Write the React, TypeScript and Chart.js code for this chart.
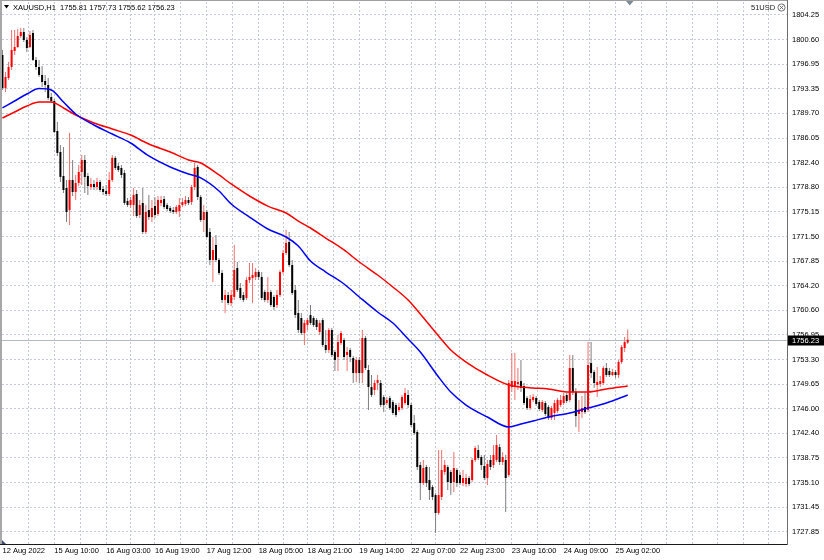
import React, { useEffect, useRef } from 'react';
import { Chart, registerables } from 'chart.js';

Chart.register(...registerables);

const symbol = 'XAUUSD,H1';
const cornerText = '51USD';

const opens = [
  1798.33, 1793.46, 1794.93, 1796.56, 1798.92, 1799.51, 1801.14, 1801.73, 1800.55, 1799.51,
  1801.59, 1797.60, 1796.56, 1795.38, 1794.49, 1793.90, 1792.12, 1791.53, 1787.09, 1783.99,
  1780.44, 1778.67, 1775.41, 1779.85, 1778.07, 1779.41, 1781.03, 1782.81, 1780.44, 1778.81,
  1779.26, 1778.81, 1779.55, 1778.52, 1778.22, 1777.78, 1779.85, 1783.11, 1781.92, 1781.63,
  1780.89, 1776.74, 1776.15, 1776.15, 1777.78, 1774.67, 1776.45, 1772.16, 1775.41, 1774.37,
  1776.00, 1774.82, 1776.45, 1777.04, 1776.15, 1775.70, 1775.41, 1775.11, 1775.26, 1776.15,
  1776.30, 1776.89, 1776.59, 1778.81, 1781.77, 1777.33, 1773.93, 1775.11, 1772.16, 1768.02,
  1770.24, 1768.02, 1766.10, 1762.10, 1762.84, 1761.66, 1762.55, 1766.84, 1763.88, 1762.84,
  1762.40, 1765.06, 1765.36, 1765.51, 1766.25, 1765.51, 1763.29, 1762.10, 1763.29, 1762.55,
  1761.36, 1762.84, 1766.25, 1769.05, 1770.68, 1767.28, 1763.58, 1760.18, 1759.44, 1757.22,
  1758.40, 1759.88, 1759.44, 1759.14, 1757.37, 1759.14, 1755.45, 1754.71, 1757.67, 1754.41,
  1753.67, 1755.74, 1756.19, 1753.97, 1754.71, 1753.52, 1751.30, 1753.23, 1751.30, 1756.48,
  1751.75, 1749.23, 1748.79, 1749.83, 1749.83, 1747.75, 1746.87, 1747.60, 1747.01, 1746.57,
  1745.83, 1746.13, 1746.87, 1748.05, 1746.57, 1743.92, 1742.58, 1737.70, 1735.04, 1737.41,
  1735.48, 1734.45, 1733.26, 1730.60, 1732.97, 1736.67, 1737.41, 1736.67, 1735.19, 1736.96,
  1736.22, 1735.04, 1734.89, 1735.78, 1735.48, 1738.44, 1739.92, 1738.89, 1737.55, 1735.78,
  1738.44, 1737.70, 1738.44, 1740.36, 1738.14, 1738.44, 1736.22, 1749.23, 1749.38, 1749.68,
  1750.12, 1749.38, 1747.60, 1746.13, 1747.31, 1747.60, 1747.01, 1745.83, 1746.87, 1746.27,
  1744.65, 1745.39, 1745.68, 1746.57, 1746.87, 1748.05, 1747.31, 1752.04, 1748.49, 1745.24,
  1745.53, 1746.27, 1745.83, 1752.78, 1751.45, 1749.53, 1749.68, 1749.83, 1752.04, 1751.60,
  1751.01, 1751.45, 1751.01, 1752.93, 1755.00, 1755.81,
];

const highs = [
  1799.07, 1795.82, 1797.30, 1802.03, 1802.03, 1802.18, 1802.33, 1802.33, 1801.00, 1801.88,
  1802.03, 1798.04, 1797.60, 1796.71, 1795.38, 1794.93, 1792.72, 1791.83, 1788.42, 1785.03,
  1784.73, 1779.85, 1786.80, 1782.81, 1780.59, 1782.07, 1783.55, 1783.55, 1780.89, 1780.15,
  1779.85, 1780.15, 1779.85, 1778.96, 1779.11, 1781.03, 1783.55, 1783.40, 1782.37, 1782.07,
  1781.33, 1777.18, 1777.33, 1778.67, 1778.37, 1776.89, 1778.67, 1776.15, 1777.63, 1776.89,
  1777.33, 1777.48, 1777.48, 1777.48, 1776.45, 1776.00, 1775.85, 1776.15, 1777.18, 1777.18,
  1777.48, 1777.33, 1779.11, 1782.37, 1782.07, 1777.63, 1776.15, 1775.41, 1772.75, 1771.42,
  1771.72, 1768.32, 1766.54, 1763.58, 1763.29, 1763.58, 1770.24, 1767.72, 1764.62, 1763.29,
  1765.51, 1767.58, 1767.58, 1766.84, 1766.54, 1766.25, 1763.58, 1765.51, 1763.58, 1762.84,
  1763.58, 1766.54, 1769.50, 1772.45, 1772.16, 1768.02, 1764.32, 1762.10, 1760.18, 1759.14,
  1759.44, 1761.36, 1759.73, 1759.44, 1759.14, 1759.44, 1757.67, 1757.96, 1757.96, 1754.71,
  1756.93, 1757.52, 1756.48, 1755.15, 1755.00, 1753.82, 1753.67, 1753.67, 1757.67, 1756.78,
  1752.49, 1751.01, 1750.27, 1751.01, 1750.27, 1748.05, 1747.75, 1747.90, 1747.31, 1746.87,
  1746.87, 1748.05, 1749.09, 1748.79, 1746.87, 1745.09, 1742.88, 1738.14, 1738.44, 1737.70,
  1737.41, 1734.74, 1733.56, 1739.92, 1739.92, 1738.44, 1737.70, 1736.96, 1739.62, 1737.26,
  1736.67, 1736.96, 1736.37, 1736.07, 1738.74, 1740.51, 1740.66, 1739.18, 1739.18, 1738.44,
  1739.18, 1740.66, 1742.14, 1740.81, 1739.62, 1739.18, 1750.27, 1754.26, 1754.26, 1752.04,
  1753.23, 1749.83, 1747.90, 1748.05, 1748.20, 1747.90, 1747.31, 1747.31, 1747.16, 1746.57,
  1746.42, 1747.31, 1747.60, 1748.05, 1748.35, 1748.35, 1753.97, 1753.97, 1749.09, 1747.31,
  1747.90, 1748.35, 1755.89, 1755.89, 1751.75, 1752.19, 1750.86, 1752.34, 1752.78, 1752.04,
  1751.90, 1751.75, 1753.23, 1755.45, 1756.63, 1757.73,
];

const lows = [
  1793.16, 1792.86, 1794.64, 1796.12, 1798.33, 1799.37, 1800.85, 1800.25, 1798.77, 1799.37,
  1797.45, 1796.12, 1795.08, 1793.60, 1792.86, 1791.68, 1791.24, 1786.80, 1783.40, 1779.55,
  1777.92, 1773.63, 1773.19, 1777.48, 1776.89, 1778.96, 1779.11, 1777.92, 1777.63, 1778.37,
  1778.37, 1778.37, 1778.07, 1777.63, 1777.48, 1777.48, 1779.55, 1781.33, 1781.03, 1780.15,
  1776.15, 1775.85, 1775.70, 1774.52, 1774.23, 1774.23, 1771.86, 1771.86, 1773.93, 1773.63,
  1774.23, 1774.52, 1776.00, 1775.56, 1775.26, 1774.96, 1774.82, 1774.82, 1774.37, 1775.85,
  1776.00, 1776.15, 1776.15, 1778.37, 1776.89, 1773.63, 1772.16, 1771.27, 1767.28, 1764.77,
  1767.72, 1765.80, 1761.66, 1760.18, 1761.36, 1761.21, 1762.10, 1763.29, 1762.10, 1761.81,
  1762.10, 1764.62, 1761.66, 1765.06, 1765.06, 1762.10, 1761.81, 1761.66, 1761.07, 1760.62,
  1760.92, 1762.55, 1765.95, 1768.76, 1766.99, 1762.84, 1759.44, 1757.22, 1756.93, 1755.45,
  1757.67, 1758.40, 1758.11, 1757.67, 1756.93, 1755.15, 1754.26, 1754.26, 1753.67, 1751.60,
  1751.60, 1755.45, 1753.23, 1751.60, 1752.93, 1749.83, 1749.97, 1749.83, 1749.83, 1751.75,
  1745.83, 1747.75, 1748.05, 1748.79, 1746.27, 1745.53, 1746.57, 1745.83, 1745.09, 1744.79,
  1745.53, 1745.83, 1746.57, 1746.13, 1743.32, 1742.14, 1736.96, 1732.52, 1734.74, 1734.45,
  1732.52, 1732.52, 1727.64, 1730.30, 1732.52, 1736.22, 1734.00, 1733.26, 1733.71, 1734.45,
  1734.74, 1734.59, 1734.45, 1734.59, 1735.19, 1738.14, 1738.44, 1736.96, 1735.48, 1734.74,
  1736.96, 1737.26, 1738.14, 1737.70, 1737.70, 1730.75, 1735.93, 1748.49, 1747.31, 1748.79,
  1748.49, 1746.57, 1745.83, 1745.83, 1747.01, 1746.42, 1745.68, 1745.53, 1744.95, 1744.36,
  1744.36, 1744.36, 1745.39, 1746.27, 1746.57, 1746.87, 1747.01, 1748.05, 1743.32, 1742.58,
  1744.65, 1745.24, 1745.53, 1750.57, 1749.09, 1747.75, 1749.23, 1749.53, 1750.71, 1750.71,
  1750.86, 1750.57, 1750.57, 1752.63, 1754.41, 1755.62,
];

const closes = [
  1793.46, 1795.08, 1796.56, 1799.07, 1799.51, 1801.14, 1801.73, 1800.55, 1799.37, 1801.29,
  1797.60, 1796.56, 1795.38, 1794.34, 1793.90, 1791.98, 1791.53, 1786.94, 1783.85, 1780.30,
  1778.37, 1775.11, 1779.85, 1778.07, 1779.41, 1781.03, 1782.81, 1780.30, 1778.96, 1779.26,
  1778.81, 1779.55, 1778.37, 1778.07, 1777.78, 1779.85, 1783.11, 1781.63, 1781.33, 1780.59,
  1776.45, 1776.15, 1776.89, 1777.63, 1774.52, 1776.15, 1772.16, 1775.11, 1774.37, 1775.70,
  1774.67, 1776.89, 1776.89, 1775.85, 1775.56, 1775.26, 1775.11, 1775.85, 1776.15, 1776.59,
  1776.89, 1776.45, 1778.81, 1781.63, 1777.33, 1773.93, 1775.11, 1771.42, 1768.02, 1769.50,
  1768.02, 1766.10, 1762.10, 1762.84, 1761.66, 1762.84, 1766.54, 1763.58, 1762.40, 1762.10,
  1765.06, 1765.51, 1765.80, 1766.25, 1765.51, 1762.40, 1762.10, 1763.29, 1761.36, 1761.07,
  1762.84, 1766.25, 1769.05, 1770.53, 1767.28, 1763.14, 1759.88, 1757.67, 1757.22, 1758.70,
  1759.14, 1758.70, 1758.40, 1758.11, 1758.70, 1755.45, 1754.71, 1757.67, 1753.97, 1753.23,
  1755.89, 1757.22, 1753.67, 1754.41, 1753.67, 1751.30, 1753.23, 1751.30, 1756.48, 1752.04,
  1749.23, 1748.05, 1749.83, 1750.27, 1746.57, 1746.57, 1747.31, 1746.13, 1745.39, 1745.09,
  1746.27, 1747.75, 1748.35, 1746.57, 1743.62, 1742.43, 1737.41, 1735.04, 1737.26, 1735.04,
  1734.00, 1732.97, 1730.60, 1733.26, 1736.96, 1737.70, 1735.19, 1735.04, 1737.26, 1735.04,
  1735.04, 1735.78, 1735.78, 1734.89, 1738.44, 1740.22, 1738.74, 1737.70, 1735.78, 1737.85,
  1737.41, 1739.18, 1740.66, 1738.14, 1738.89, 1735.78, 1749.83, 1750.12, 1750.12, 1749.97,
  1749.09, 1746.87, 1746.13, 1747.46, 1747.75, 1746.72, 1745.98, 1747.01, 1745.24, 1744.65,
  1746.13, 1746.87, 1747.31, 1747.31, 1747.90, 1747.16, 1752.04, 1748.49, 1744.95, 1745.83,
  1746.13, 1745.53, 1752.49, 1751.30, 1749.83, 1749.97, 1750.12, 1752.04, 1751.01, 1751.01,
  1751.45, 1751.01, 1752.93, 1755.15, 1755.89, 1756.23,
];

// moving averages read at sampled bars
const maIdx = [0, 4, 8, 12, 16, 20, 24, 30, 36, 42, 48, 55, 61, 65, 71, 75, 81, 87, 93, 97,
  101, 106, 112, 117, 123, 128, 133, 137, 143, 147, 152, 159, 166, 170, 174, 179, 186, 192, 198, 205];
const maFast = [1790.50, 1791.53, 1792.57, 1793.38, 1793.16, 1791.38, 1789.61, 1787.98, 1786.65, 1785.32,
  1783.40, 1781.77, 1780.74, 1780.15, 1778.22, 1776.30, 1774.37, 1772.60, 1771.42, 1770.09,
  1767.87, 1766.24, 1764.47, 1762.55, 1760.33, 1758.70, 1756.33, 1754.41, 1750.71, 1748.49,
  1746.57, 1744.80, 1743.32, 1743.77, 1744.21, 1744.80, 1745.39, 1746.13, 1746.87, 1748.05];
const maSlow = [1789.02, 1789.91, 1790.79, 1791.38, 1791.38, 1790.50, 1789.46, 1788.28, 1787.39, 1786.50,
  1785.17, 1783.99, 1782.81, 1782.37, 1780.59, 1779.26, 1777.48, 1775.99, 1774.97, 1773.78,
  1772.75, 1771.27, 1769.50, 1767.72, 1765.80, 1764.03, 1762.10, 1760.03, 1756.78, 1754.71,
  1752.93, 1751.01, 1749.53, 1749.23, 1749.09, 1748.94, 1748.49, 1748.49, 1748.94, 1749.38];

const xTickIdx = [0, 17, 34, 50, 67, 84, 100, 117, 134, 150, 167, 184, 201];
const xTickLabels = ['12 Aug 2022', '15 Aug 10:00', '16 Aug 03:00', '16 Aug 19:00', '17 Aug 12:00',
  '18 Aug 05:00', '18 Aug 21:00', '19 Aug 14:00', '22 Aug 07:00', '22 Aug 23:00', '23 Aug 16:00',
  '24 Aug 09:00', '25 Aug 02:00'];
const yTickLabels = ['1804.25', '1800.60', '1796.95', '1793.35', '1789.70', '1786.05', '1782.40',
  '1778.80', '1775.15', '1771.50', '1767.85', '1764.20', '1760.60', '1756.95', '1753.30', '1749.65',
  '1746.00', '1742.40', '1738.75', '1735.10', '1731.45', '1727.85'];

const X_MIN = -0.15;
const X_MAX = 257.23;
const Y_MIN = 1726.02;
const Y_MAX = 1806.17;
const FONT_FAMILY = '"Liberation Sans", Arial, sans-serif';
const GRID = '#c6cad2';

export default function App() {
  const ref = useRef<HTMLCanvasElement | null>(null);

  useEffect(() => {
    if (!ref.current) return;
    const bull = closes.map((c, i) => c >= opens[i]);
    const wickData = opens.map((_, i) => ({ x: i, y: [lows[i], highs[i]] }));
    const bodyData = opens.map((o, i) => ({ x: i, y: [o, closes[i]] }));
    const fastData = maIdx.map((x, k) => ({ x, y: maFast[k] }));
    const slowData = maIdx.map((x, k) => ({ x, y: maSlow[k] }));

    const gridVals = (): number[] => {
      const vals: number[] = [xTickIdx[0]];
      const n = xTickIdx.length;
      const step = (xTickIdx[n - 1] - xTickIdx[1]) / (2 * (n - 2));
      vals.push(xTickIdx[1] - step);
      for (let m = 1; m < n; m++) {
        vals.push(xTickIdx[m]);
        if (m < n - 1) vals.push((xTickIdx[m] + xTickIdx[m + 1]) / 2);
      }
      let v = xTickIdx[n - 1] + step;
      while (v < X_MAX) { vals.push(v); v += step; }
      return vals.sort((a, b) => a - b);
    };

    const last = opens.length - 1;
    const fmt = (v: number) => v.toFixed(2);

    const overlay = {
      id: 'mtOverlay',
      beforeDatasetsDraw(chart: any) {
        const { ctx, chartArea: ca, scales } = chart;
        const py = Math.round(scales.y.getPixelForValue(closes[last])) + 0.5;
        ctx.save();
        ctx.strokeStyle = '#b2bac4';
        ctx.lineWidth = 1;
        ctx.beginPath();
        ctx.moveTo(ca.left, py);
        ctx.lineTo(ca.right, py);
        ctx.stroke();
        ctx.restore();
      },
      afterDraw(chart: any) {
        const { ctx, chartArea: ca, scales } = chart;
        ctx.save();
        // frame
        ctx.fillStyle = '#a8a8a8';
        ctx.fillRect(0, 0, 2, ca.bottom + 1);
        ctx.fillStyle = '#a0a0a0';
        ctx.fillRect(0, 0, ca.right + 1, 1);
        ctx.fillStyle = '#1a1a1a';
        ctx.fillRect(0, ca.bottom, ca.right + 1, 1);
        ctx.fillStyle = '#6e6e6e';
        ctx.fillRect(ca.right, 0, 1, ca.bottom + 1);

        // current price tag
        const py = Math.round(scales.y.getPixelForValue(closes[last])) + 0.5;
        ctx.fillStyle = '#000';
        ctx.fillRect(ca.right + 1, py - 5, 36, 10);
        ctx.fillStyle = '#fff';
        ctx.font = `7.5px ${FONT_FAMILY}`;
        ctx.textBaseline = 'middle';
        ctx.textAlign = 'left';
        ctx.fillText(fmt(closes[last]), ca.right + 5, py);

        // header
        ctx.fillStyle = '#000';
        ctx.beginPath();
        ctx.moveTo(4, 5);
        ctx.lineTo(9, 5);
        ctx.lineTo(6.5, 8.5);
        ctx.closePath();
        ctx.fill();
        ctx.fillText(`${symbol}  ${fmt(opens[last])} ${fmt(highs[last])} ${fmt(lows[last])} ${fmt(closes[last])}`, 13, 7.5);

        // right corner text and icon
        ctx.fillStyle = '#222';
        ctx.fillText(cornerText, 751, 7.5);
        ctx.strokeStyle = '#555';
        ctx.lineWidth = 0.8;
        ctx.beginPath();
        ctx.arc(781.5, 7.5, 3.6, 0, Math.PI * 2);
        ctx.stroke();
        ctx.beginPath();
        ctx.moveTo(779.7, 5.7); ctx.lineTo(783.3, 9.3);
        ctx.moveTo(783.3, 5.7); ctx.lineTo(779.7, 9.3);
        ctx.stroke();

        // shift marker at top
        ctx.fillStyle = '#7d8b99';
        ctx.beginPath();
        ctx.moveTo(626, 1);
        ctx.lineTo(633.5, 1);
        ctx.lineTo(629.75, 5.5);
        ctx.closePath();
        ctx.fill();

        // small marker bottom-left
        ctx.fillStyle = '#3e4c6e';
        ctx.beginPath();
        ctx.moveTo(2, 540);
        ctx.lineTo(2, 544);
        ctx.lineTo(6, 544);
        ctx.closePath();
        ctx.fill();
        ctx.restore();
      },
    };

    const chart = new Chart(ref.current, {
      type: 'bar',
      data: {
        datasets: [
          {
            type: 'line',
            label: 'MA slow',
            data: slowData as any,
            borderColor: '#ff0000',
            borderWidth: 1.5,
            pointRadius: 0,
            cubicInterpolationMode: 'monotone',
            order: 1,
          } as any,
          {
            type: 'line',
            label: 'MA fast',
            data: fastData as any,
            borderColor: '#0000ff',
            borderWidth: 1.5,
            pointRadius: 0,
            cubicInterpolationMode: 'monotone',
            order: 0,
          } as any,
          {
            type: 'bar',
            label: 'body',
            data: bodyData as any,
            backgroundColor: bull.map((b) => (b ? '#ff0000' : '#000000')),
            borderWidth: 0,
            barThickness: 2,
            grouped: false,
            minBarLength: 1,
            inflateAmount: 0,
            order: 2,
          } as any,
          {
            type: 'bar',
            label: 'wick',
            data: wickData as any,
            backgroundColor: bull.map((b) => (b ? '#f36f6f' : '#7f7f7f')),
            borderWidth: 0,
            barThickness: 1,
            grouped: false,
            inflateAmount: 0,
            order: 3,
          } as any,
        ],
      },
      options: {
        responsive: false,
        animation: false,
        events: [],
        layout: { padding: { left: 2, top: 2, right: 0, bottom: 0 } },
        plugins: { legend: { display: false }, tooltip: { enabled: false } },
        scales: {
          x: {
            type: 'linear',
            min: X_MIN,
            max: X_MAX,
            offset: false,
            bounds: 'data',
            grid: {
              offset: false,
              drawTicks: false,
              lineWidth: 1,
              color: (c: any) => (c.tick && c.tick.value === xTickIdx[0] ? 'rgba(0,0,0,0)' : GRID),
            },
            border: { display: false, dash: [2, 2] },
            afterBuildTicks: (scale: any) => {
              scale.ticks = gridVals().map((v) => ({ value: v }));
            },
            afterFit: (scale: any) => {
              scale.height = 16;
              scale.paddingLeft = 0;
              scale.paddingRight = 0;
            },
            ticks: {
              autoSkip: false,
              maxRotation: 0,
              minRotation: 0,
              align: 'start',
              padding: 2,
              color: '#000',
              font: { family: FONT_FAMILY, size: 7.5 },
              callback: (value: any) => {
                const k = xTickIdx.indexOf(Number(value));
                return k >= 0 ? xTickLabels[k] : '';
              },
            },
          } as any,
          y: {
            type: 'linear',
            position: 'right',
            min: Y_MIN,
            max: Y_MAX,
            bounds: 'data',
            grid: { drawTicks: false, color: GRID, lineWidth: 1 },
            border: { display: false, dash: [2, 2] },
            afterBuildTicks: (scale: any) => {
              scale.ticks = yTickLabels.map((l) => ({ value: parseFloat(l) }));
            },
            afterFit: (scale: any) => {
              scale.width = 37;
              scale.paddingTop = 0;
              scale.paddingBottom = 0;
            },
            ticks: {
              autoSkip: false,
              padding: 5,
              color: '#000',
              font: { family: FONT_FAMILY, size: 7.5 },
              callback: (_v: any, idx: number) => yTickLabels[idx],
            },
          } as any,
        },
      },
      plugins: [overlay],
    });

    return () => chart.destroy();
  }, []);

  return (
    <div style={{ position: 'absolute', left: 0, top: 0, width: 824, height: 560, background: '#fff' }}>
      <canvas ref={ref} width={824} height={560} style={{ display: 'block', width: 824, height: 560 }} />
    </div>
  );
}
